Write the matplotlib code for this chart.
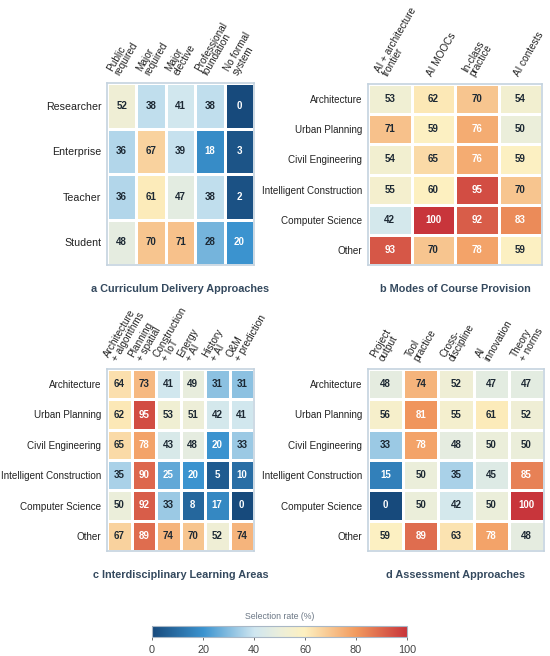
import numpy as np
import matplotlib
matplotlib.use("Agg")
import matplotlib.pyplot as plt
from matplotlib.colors import LinearSegmentedColormap

plt.rcParams['font.family'] = ['Liberation Sans', 'DejaVu Sans']

# panel a
a_rows = ["Researcher", "Enterprise", "Teacher", "Student"]
a_cols = ["Public\nrequired", "Major\nrequired", "Major\nelective",
          "Professional\nfoundation", "No formal\nsystem"]
a_vals = [[52, 38, 41, 38, 0],
          [36, 67, 39, 18, 3],
          [36, 61, 47, 38, 2],
          [48, 70, 71, 28, 20]]

# panel b
b_rows = ["Architecture", "Urban Planning", "Civil Engineering",
          "Intelligent Construction", "Computer Science", "Other"]
b_cols = ["AI + architecture\nfrontier", "AI MOOCs", "In-class\npractice", "AI contests"]
b_vals = [[53, 62, 70, 54],
          [71, 59, 76, 50],
          [54, 65, 76, 59],
          [55, 60, 95, 70],
          [42, 100, 92, 83],
          [93, 70, 78, 59]]

# panel c
c_rows = b_rows
c_cols = ["Architecture\n+ algorithms", "Planning\n+ spatial", "Construction\n+ IoT",
          "Energy\n+ AI", "History\n+ AI", "O&M\n+ prediction"]
c_vals = [[64, 73, 41, 49, 31, 31],
          [62, 95, 53, 51, 42, 41],
          [65, 78, 43, 48, 20, 33],
          [35, 90, 25, 20, 5, 10],
          [50, 92, 33, 8, 17, 0],
          [67, 89, 74, 70, 52, 74]]

# panel d
d_rows = b_rows
d_cols = ["Project\noutput", "Tool\npractice", "Cross-\ndiscipline",
          "AI\ninnovation", "Theory\n+ norms"]
d_vals = [[48, 74, 52, 47, 47],
          [56, 81, 55, 61, 52],
          [33, 78, 48, 50, 50],
          [15, 50, 35, 45, 85],
          [0, 50, 42, 50, 100],
          [59, 89, 63, 78, 48]]

titles = ["a Curriculum Delivery Approaches", "b Modes of Course Provision",
          "c Interdisciplinary Learning Areas", "d Assessment Approaches"]

cmap = LinearSegmentedColormap.from_list("sel", [
    (0.0, "#174a7c"), (0.2, "#3b93cf"), (0.4, "#cfe6f0"), (0.5, "#ebeedb"),
    (0.6, "#fdf0c0"), (0.8, "#f29b5f"), (1.0, "#c8353b")])

W, H = 550, 656
fig = plt.figure(figsize=(5.5, 6.56), dpi=100)

def box(l, t, r, b):
    return [l / W, 1 - b / H, (r - l) / W, (b - t) / H]

boxes = [box(107, 83, 254, 265), box(368, 84, 542, 265),
         box(107, 369, 254, 551), box(368, 369, 544, 551)]
panels = [(a_rows, a_cols, a_vals), (b_rows, b_cols, b_vals),
          (c_rows, c_cols, c_vals), (d_rows, d_cols, d_vals)]

for i, ((rows, cols, vals), pos) in enumerate(zip(panels, boxes)):
    ax = fig.add_axes(pos)
    v = np.array(vals)
    mesh = ax.pcolormesh(v, cmap=cmap, vmin=0, vmax=100,
                         edgecolor="white", linewidth=0.9)
    ax.set_xlim(0, v.shape[1])
    ax.set_ylim(v.shape[0], 0)
    for r in range(v.shape[0]):
        for c in range(v.shape[1]):
            val = v[r, c]
            col = "white" if (val <= 25 or val >= 75) else "#1c2833"
            ax.text(c + 0.5, r + 0.5, str(val), ha="center", va="center",
                    fontsize=7, fontweight="bold", color=col)
    ax.set_yticks(np.arange(v.shape[0]) + 0.5)
    ax.set_yticklabels(rows, fontsize=7.7 if i == 0 else 7.1, color="#222222")
    ax.set_xticks(np.arange(v.shape[1]) + 0.5)
    ax.set_xticklabels(cols, fontsize=7.2, color="#222222", rotation=60,
                       ha="left", va="bottom", rotation_mode="anchor",
                       linespacing=0.95)
    ax.xaxis.tick_top()
    ax.tick_params(length=0, pad=4)
    for s in ax.spines.values():
        s.set_color("#c5d3df")
        s.set_linewidth(1.2)
    ax.set_title(titles[i], y=-0.15, fontsize=7.8, fontweight="bold",
                 color="#34495e", pad=0)

cax = fig.add_axes(box(152, 626, 407, 637))
cb = fig.colorbar(mesh, cax=cax, orientation="horizontal", ticks=[0, 20, 40, 60, 80, 100])
cb.outline.set_edgecolor("#a9b7c6")
cb.outline.set_linewidth(0.8)
cax.tick_params(labelsize=7.8, colors="#555555", length=2, width=0.6)
for t in cax.get_xticklabels():
    t.set_color("#444444")
cax.set_title("Selection rate (%)", fontsize=6.3, color="#6b7785", pad=5)

plt.savefig("out.png", dpi=100)
